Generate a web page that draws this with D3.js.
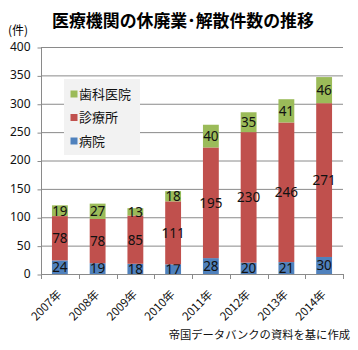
<!DOCTYPE html>
<html>
<head>
<meta charset="utf-8">
<script src="https://cdn.jsdelivr.net/npm/d3@7"></script>
<style>
  body { margin: 0; background: #fff; }
  svg text { font-family: "Noto Sans CJK JP", "Noto Sans", sans-serif; }
</style>
</head>
<body>
<svg id="chart" width="358" height="350"></svg>
<script>
// data
const years = ["2007年", "2008年", "2009年", "2010年", "2011年", "2012年", "2013年", "2014年"];
const hospital = [24, 19, 18, 17, 28, 20, 21, 30];
const clinic = [78, 78, 85, 111, 195, 230, 246, 271];
const dental = [19, 27, 13, 18, 40, 35, 41, 46];
const seriesNames = ["病院", "診療所", "歯科医院"];
const colors = ["#4F81BD", "#C0504D", "#9BBB59"];
const yTicks = [0, 50, 100, 150, 200, 250, 300, 350, 400];

const svg = d3.select("#chart");
const plotL = 41, plotR = 343, plotT = 47, plotB = 274;

const x = d3.scaleBand()
    .domain(years)
    .range([plotL, plotR])
    .paddingInner(0.58)
    .paddingOuter(0.29);

const y = d3.scaleLinear()
    .domain([0, 400])
    .range([plotB, plotT]);

const rows = years.map((yr, i) => ({ year: yr, 0: hospital[i], 1: clinic[i], 2: dental[i] }));
const stack = d3.stack().keys([0, 1, 2]);
const layers = stack(rows);

// title
const title = svg.append("text")
    .attr("x", 183)
    .attr("y", 27)
    .attr("text-anchor", "middle")
    .attr("font-size", 16)
    .attr("font-weight", "bold")
    .attr("fill", "#000")
    .text("医療機関の休廃業･解散件数の推移");
// fit the title to the width seen in the picture
const tw = title.node().getComputedTextLength();
if (tw > 0) title.attr("font-size", 16 * 262 / tw);

svg.append("text")
    .attr("x", 8)
    .attr("y", 35)
    .attr("font-size", 12)
    .attr("fill", "#000")
    .text("(件)");

// gridlines
svg.append("g")
    .selectAll("line")
    .data(yTicks.slice(1))
    .join("line")
    .attr("x1", plotL)
    .attr("x2", plotR)
    .attr("y1", d => y(d) + 0.5)
    .attr("y2", d => y(d) + 0.5)
    .attr("stroke", "#8a8a8a")
    .attr("stroke-width", 1);

// y axis
const yAxis = svg.append("g")
    .attr("transform", "translate(" + (plotL + 0.5) + ",0.5)")
    .call(d3.axisLeft(y).tickValues(yTicks).tickSize(4).tickPadding(7));
yAxis.select(".domain").attr("stroke", "#8a8a8a").attr("d", "M0," + plotT + "V" + plotB);
yAxis.selectAll(".tick line").attr("stroke", "#8a8a8a");
yAxis.selectAll(".tick text")
    .attr("font-size", 12)
    .attr("dy", "0.24em")
    .attr("fill", "#111")
    .style("font-family", "'Noto Sans', sans-serif");

// bars
const layerG = svg.append("g")
    .selectAll("g")
    .data(layers)
    .join("g")
    .attr("fill", (d, i) => colors[i]);

layerG.selectAll("rect")
    .data(d => d)
    .join("rect")
    .attr("x", d => x(d.data.year))
    .attr("width", x.bandwidth())
    .attr("y", d => y(d[1]))
    .attr("height", d => y(d[0]) - y(d[1]));

// data labels
layerG.selectAll("text")
    .data(d => d)
    .join("text")
    .attr("x", d => x(d.data.year) + x.bandwidth() / 2)
    .attr("y", d => (y(d[0]) + y(d[1])) / 2)
    .attr("dy", "0.36em")
    .attr("text-anchor", "middle")
    .attr("font-size", 13.5)
    .attr("fill", "#111")
    .style("font-family", "'Noto Sans', sans-serif")
    .text(d => d[1] - d[0]);

// x axis
const xg = svg.append("g");
xg.append("line")
    .attr("x1", plotL)
    .attr("x2", plotR)
    .attr("y1", plotB + 0.5)
    .attr("y2", plotB + 0.5)
    .attr("stroke", "#8a8a8a");
const bounds = d3.range(years.length + 1).map(i => x.range()[0] + i * x.step());
xg.selectAll("line.tk")
    .data(bounds)
    .join("line")
    .attr("class", "tk")
    .attr("x1", d => Math.round(d) + 0.5)
    .attr("x2", d => Math.round(d) + 0.5)
    .attr("y1", plotB)
    .attr("y2", plotB + 5)
    .attr("stroke", "#8a8a8a");

xg.selectAll("text")
    .data(years)
    .join("text")
    .attr("transform", d => "translate(" + (x(d) + x.bandwidth() / 2 + 2.5) + "," + (plotB + 21) + ") rotate(-45)")
    .attr("text-anchor", "end")
    .attr("font-size", 11.5)
    .attr("fill", "#111")
    .text(d => d);

// legend
const legend = svg.append("g");
legend.append("rect")
    .attr("x", 64)
    .attr("y", 79)
    .attr("width", 76)
    .attr("height", 76)
    .attr("fill", "#f2f2f2");
const legendOrder = [2, 1, 0];
const li = legend.selectAll("g.item")
    .data(legendOrder)
    .join("g")
    .attr("class", "item")
    .attr("transform", (d, i) => "translate(70," + (94 + i * 23.5) + ")");
li.append("rect")
    .attr("x", 0.5)
    .attr("y", -3.5)
    .attr("width", 7)
    .attr("height", 7)
    .attr("fill", d => colors[d]);
li.append("text")
    .attr("x", 9)
    .attr("dy", "0.36em")
    .attr("font-size", 13)
    .attr("fill", "#111")
    .text(d => seriesNames[d]);

// source note
svg.append("text")
    .attr("x", 350)
    .attr("y", 339)
    .attr("text-anchor", "end")
    .attr("font-size", 11.3)
    .attr("fill", "#111")
    .text("帝国データバンクの資料を基に作成");
</script>
</body>
</html>
